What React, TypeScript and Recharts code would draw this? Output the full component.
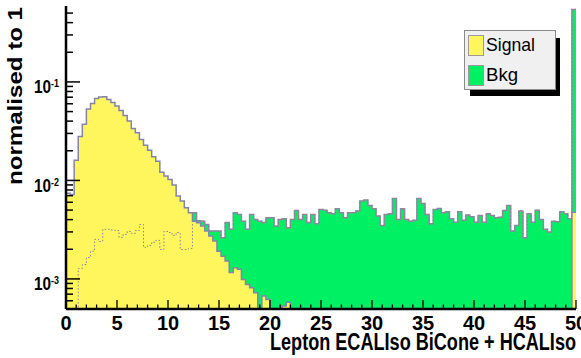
import React from 'react';
import { ComposedChart, Area, Line, XAxis, YAxis, Legend } from 'recharts';

// ---- data ----
const BIN_WIDTH = 0.4; // 125 bins over 0..50
const SIGNAL = [
  0.0074, 0.0072, 0.016, 0.028, 0.0371, 0.0532, 0.0605, 0.068, 0.0705, 0.0708,
  0.0664, 0.0619, 0.0571, 0.0514, 0.0457, 0.04, 0.0337, 0.0305, 0.0261, 0.0228,
  0.0203, 0.0174, 0.0157, 0.01214, 0.01106, 0.01023, 0.00896, 0.00693, 0.00617, 0.00528,
  0.0047, 0.00386, 0.00372, 0.00344, 0.00306, 0.00272, 0.00242, 0.00191, 0.0017, 0.00152,
  0.00116, 0.0013, 0.00125, 0.000989, 0.000879, 0.000814, 0.000724, 0, 0.000669, 0.000619,
  0, 0, 0, 0.00053, 0.00058, 0, 0, 0, 0, 0,
  0, 0, 0, 0, 0, 0, 0, 0, 0, 0,
  0, 0, 0, 0, 0, 0, 0, 0, 0, 0,
  0, 0, 0, 0, 0, 0, 0, 0, 0, 0,
  0, 0, 0, 0, 0, 0, 0, 0, 0, 0,
  0, 0, 0, 0, 0, 0, 0, 0, 0, 0,
  0, 0, 0, 0, 0, 0, 0, 0, 0, 0,
  0, 0, 0, 0, 0.00476,
];
const BKG = [
  0, 0, 0, 0.00128, 0.0014, 0.00165, 0.00191, 0.00252, 0.0024, 0.00319,
  0.00319, 0.00314, 0.0031, 0.00264, 0.00283, 0.00303, 0.0029, 0.0031, 0.00357, 0.00209,
  0.00219, 0.00235, 0.00246, 0.00199, 0.00303, 0.00296, 0.00277, 0.00296, 0.00199, 0.00199,
  0.00204, 0.0047, 0.0039, 0.00386, 0.00357, 0.00306, 0.00306, 0.00306, 0.00262, 0.00373,
  0.00319, 0.0047, 0.00452, 0.00386, 0.00319, 0.00452, 0.00402, 0.00386, 0.00373, 0.00418,
  0.00418, 0.00344, 0.00402, 0.00408, 0.00331, 0.00402, 0.00496, 0.00402, 0.00452, 0.00373,
  0.00452, 0.00363, 0.00508, 0.00499, 0.0047, 0.00459, 0.00516, 0.0047, 0.00418, 0.0047,
  0.0047, 0.00488, 0.00617, 0.00631, 0.00557, 0.00516, 0.00435, 0.00349, 0.00452, 0.00459,
  0.00656, 0.00402, 0.00516, 0.00402, 0.00386, 0.00393, 0.00656, 0.00583, 0.00452, 0.00363,
  0.00508, 0.0052, 0.0047, 0.00481, 0.00408, 0.00377, 0.00481, 0.00393, 0.00445, 0.00428,
  0.00377, 0.00441, 0.00377, 0.00459, 0.00441, 0.00418, 0.00424, 0.00496, 0.00557, 0.00306,
  0.00349, 0.00488, 0.00262, 0.00459, 0.00377, 0.00499, 0.00402, 0.00319, 0.00299, 0.00386,
  0.00381, 0.00481, 0.00459, 0.00408, 0.545,
];
const X_TICKS = Array.from({ length: 51 }, (_, i) => i);
const Y_MAJOR = [0.001, 0.01, 0.1];
const Y_EXP: Record<string, string> = { '0.001': '-3', '0.01': '-2', '0.1': '-1' };
const Y_TICKS = [
  0.0006, 0.0007, 0.0008, 0.0009,
  0.001, 0.002, 0.003, 0.004, 0.005, 0.006, 0.007, 0.008, 0.009,
  0.01, 0.02, 0.03, 0.04, 0.05, 0.06, 0.07, 0.08, 0.09,
  0.1, 0.2, 0.3, 0.4, 0.5,
];
const Y_DOMAIN = [0.000495, 0.59];
const X_TITLE = 'Lepton ECALIso BiCone + HCALIso';
const Y_TITLE = 'normalised to 1';
const SERIES = [
  { key: 'signal', name: 'Signal', fill: '#fef65c' },
  { key: 'bkg', name: 'Bkg', fill: '#00f064' },
];

const FLOOR = 1e-7; // stand-in for empty bins on the log axis (drawn below the frame)
const data = SIGNAL.map((s, i) => ({
  x: +(i * BIN_WIDTH).toFixed(2),
  signal: Math.max(s, FLOOR),
  bkg: Math.max(BKG[i], FLOOR),
}));
data.push({ x: 50, signal: Math.max(SIGNAL[SIGNAL.length - 1], FLOOR), bkg: Math.max(BKG[BKG.length - 1], FLOOR) });

const FONT = "'Liberation Sans', Arial, Helvetica, sans-serif";

const XTick = (props: any) => {
  const { x, y, payload } = props;
  const v = payload.value;
  const major = v % 5 === 0;
  return (
    <g>
      <line x1={x} x2={x} y1={y} y2={y - (major ? 9 : 4.5)} stroke="#000" strokeWidth={1.3} />
      {major && (
        <text x={x} y={y + 21} textAnchor="middle" fontSize={20} fontWeight="bold" fontFamily={FONT} fill="#000">
          {v}
        </text>
      )}
    </g>
  );
};

const YTick = (props: any) => {
  const { x, y, payload } = props;
  const v = payload.value;
  const major = Y_MAJOR.some((m) => Math.abs(m - v) / m < 1e-6);
  const exp = Y_EXP[String(v)];
  return (
    <g>
      <line x1={x} x2={x + (major ? 14 : 7)} y1={y} y2={y} stroke="#000" strokeWidth={1.5} />
      {major && (
        <text x={x - 32} y={y + 11.5} fontFamily={FONT} fontWeight="bold" fill="#000"
          textLength={25} lengthAdjust="spacingAndGlyphs">
          <tspan fontSize={19}>10</tspan>
          <tspan fontSize={11} dy={-6}>{exp}</tspan>
        </text>
      )}
    </g>
  );
};

const XTitle = (props: any) => {
  const vb = props.viewBox || {};
  const right = vb.x + vb.width;
  return (
    <text x={right} y={vb.y + 41} textAnchor="end" fontSize={23} fontWeight="bold" fontFamily={FONT}
      fill="#000" textLength={306} lengthAdjust="spacingAndGlyphs">
      {X_TITLE}
    </text>
  );
};

const YTitle = (props: any) => {
  const vb = props.viewBox || {};
  const ax = vb.x + 22;
  const ay = vb.y + 1;
  return (
    <text x={ax} y={ay} transform={`rotate(-90, ${ax}, ${ay})`} textAnchor="end" fontSize={20}
      fontWeight="bold" fontFamily={FONT} fill="#000" textLength={178} lengthAdjust="spacingAndGlyphs">
      {Y_TITLE}
    </text>
  );
};

const LegendBox = () => (
  <svg width={100} height={70} style={{ display: 'block' }}>
    <rect x={6} y={8} width={90} height={58} fill="#000" />
    <rect x={0.5} y={0.5} width={91} height={59} fill="#f0f0f0" stroke="#8a8a8a" strokeWidth={1} />
    {SERIES.map((s, i) => (
      <g key={s.key}>
        <rect x={4.5} y={5.5 + i * 30} width={15} height={20} fill={s.fill} stroke="#9a9a9a" strokeWidth={1} />
        <text x={22} y={21 + i * 30} fontSize={19} fontFamily={FONT} fill="#000"
          textLength={i === 0 ? 49 : 32} lengthAdjust="spacingAndGlyphs">
          {s.name}
        </text>
      </g>
    ))}
  </svg>
);

export default function App() {
  return (
    <div style={{ position: 'absolute', left: 0, top: 0, width: 581, height: 358, background: '#fff' }}>
      <ComposedChart width={581} height={358} data={data} margin={{ top: 6, right: 5, bottom: 0, left: 0 }}>
        <XAxis
          dataKey="x"
          type="number"
          domain={[0, 50]}
          allowDataOverflow
          ticks={X_TICKS}
          interval={0}
          tickSize={0}
          tickMargin={0}
          tick={<XTick />}
          height={49}
          axisLine={{ stroke: '#000', strokeWidth: 2.5 }}
          label={<XTitle />}
        />
        <XAxis
          xAxisId="top"
          orientation="top"
          dataKey="x"
          type="number"
          domain={[0, 50]}
          height={0}
          tick={false}
          tickLine={false}
          axisLine={{ stroke: '#000', strokeWidth: 2 }}
        />
        <YAxis
          type="number"
          scale="log"
          domain={Y_DOMAIN}
          allowDataOverflow
          ticks={Y_TICKS}
          interval={0}
          tickSize={0}
          tickMargin={0}
          tick={<YTick />}
          width={66}
          axisLine={{ stroke: '#000', strokeWidth: 2.5 }}
          label={<YTitle />}
        />
        <Area
          dataKey="bkg"
          name="Bkg"
          type="stepAfter"
          fill="#00f064"
          fillOpacity={1}
          stroke="#8c8c9c"
          strokeWidth={1.5}
          isAnimationActive={false}
          dot={false}
          activeDot={false}
        />
        <Area
          dataKey="signal"
          name="Signal"
          type="stepAfter"
          fill="#fef65c"
          fillOpacity={1}
          stroke="#8484a8"
          strokeWidth={1.5}
          isAnimationActive={false}
          dot={false}
          activeDot={false}
        />
        <Line
          dataKey="bkg"
          type="stepAfter"
          stroke="#8484a4"
          strokeWidth={1}
          strokeDasharray="1.5 2"
          dot={false}
          activeDot={false}
          legendType="none"
          isAnimationActive={false}
        />
        <Legend
          layout="vertical"
          align="center"
          verticalAlign="middle"
          wrapperStyle={{ position: 'absolute', left: 464, top: 30, width: 100, height: 70 }}
          content={() => <LegendBox />}
        />
      </ComposedChart>
    </div>
  );
}
